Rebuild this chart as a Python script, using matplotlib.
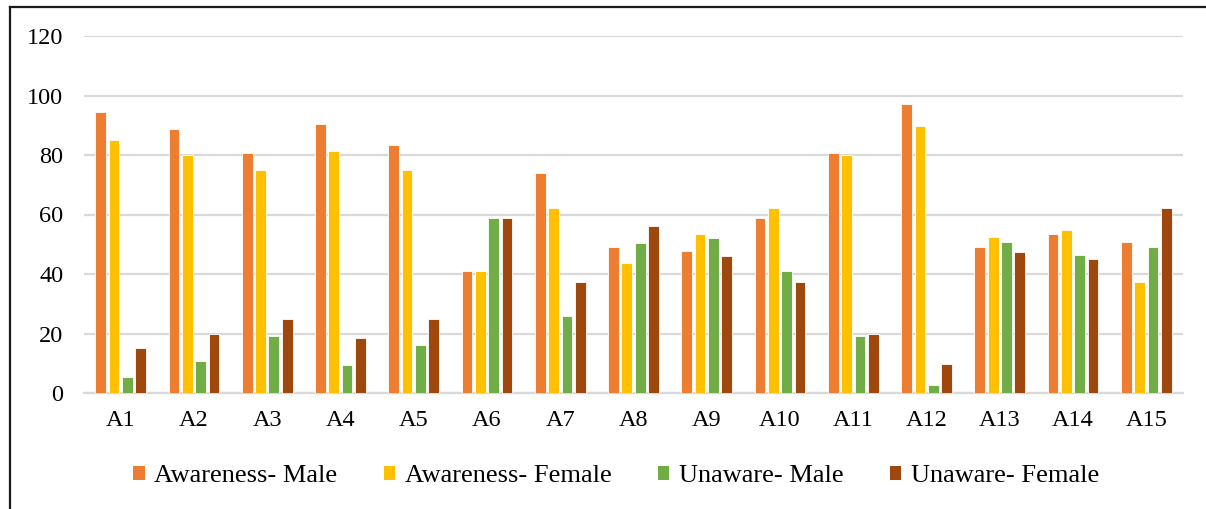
import matplotlib
matplotlib.use("Agg")
import matplotlib.pyplot as plt
import numpy as np
from matplotlib.lines import Line2D
from matplotlib.patches import Patch

categories = ["A1", "A2", "A3", "A4", "A5", "A6", "A7", "A8", "A9", "A10",
              "A11", "A12", "A13", "A14", "A15"]
awareness_male = [94.4, 88.8, 80.8, 90.4, 83.5, 40.9, 74.0, 49.1, 47.7, 58.7,
                  80.6, 97.1, 49.1, 53.3, 50.6]
awareness_female = [84.9, 80.0, 75.0, 81.2, 75.0, 41.0, 62.3, 43.6, 53.5, 62.3,
                    80.0, 89.8, 52.3, 54.7, 37.2]
unaware_male = [5.5, 10.8, 19.2, 9.5, 16.2, 58.8, 25.8, 50.5, 52.0, 40.9,
                19.2, 2.6, 50.6, 46.3, 49.1]
unaware_female = [15.0, 20.0, 25.0, 18.6, 25.0, 58.7, 37.3, 56.1, 46.2, 37.3,
                  20.0, 9.8, 47.3, 44.9, 62.2]

series = [
    ("Awareness- Male", awareness_male, "#ED7D31"),
    ("Awareness- Female", awareness_female, "#FFC000"),
    ("Unaware- Male", unaware_male, "#70AD47"),
    ("Unaware- Female", unaware_female, "#9E480E"),
]

plt.rcParams['font.family'] = ['Liberation Serif', 'DejaVu Serif']

W, H = 1206, 509
fig = plt.figure(figsize=(W / 100, H / 100), dpi=100)
ax = fig.add_axes([84 / W, 1 - 393 / H, (1183 - 84) / W, (393 - 36) / H])

x = np.arange(len(categories))
slot = 0.182
bw = 0.146
for i, (name, vals, col) in enumerate(series):
    ax.bar(x + (i - 1.5) * slot, vals, width=bw, color=col,
           edgecolor="white", linewidth=0.6, label=name, zorder=3)

ax.set_xlim(-0.5, len(categories) - 0.5)
ax.set_ylim(0, 120)
ax.set_yticks(range(0, 121, 20))
ax.set_xticks(x)
ax.set_xticklabels(categories)
ax.yaxis.grid(True, color="#D9D9D9", linewidth=1.6, zorder=0)
ax.set_axisbelow(True)
for s in ["top", "right", "left"]:
    ax.spines[s].set_visible(False)
ax.spines["bottom"].set_color("#D9D9D9")
ax.spines["bottom"].set_linewidth(1.6)
ax.tick_params(axis="both", length=0, labelsize=17.5, colors="black")
ax.tick_params(axis="y", pad=15)
ax.tick_params(axis="x", pad=12)

handles = [Patch(facecolor=c, edgecolor="none", label=n) for n, _, c in series]
fig.legend(handles=handles, loc="center", bbox_to_anchor=(616 / W, 1 - 476 / H),
           ncol=4, frameon=False, fontsize=19, handlelength=0.45, handleheight=0.45,
           handletextpad=0.35, columnspacing=1.75)

# outer chart border (left and top visible)
fig.add_artist(Line2D([10 / W, 10 / W], [0, 1 - 7 / H], transform=fig.transFigure,
                      color="#1a1a1a", linewidth=1.6))
fig.add_artist(Line2D([10 / W, 1], [1 - 7 / H, 1 - 7 / H], transform=fig.transFigure,
                      color="#1a1a1a", linewidth=1.6))

fig.savefig("out.png", dpi=100)
